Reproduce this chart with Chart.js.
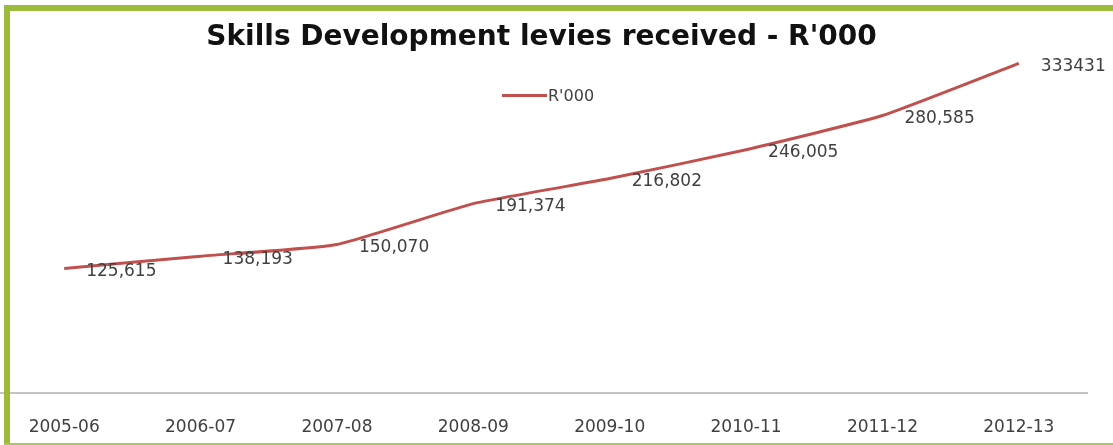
<!DOCTYPE html>
<html>
<head>
<meta charset="utf-8">
<script src="https://cdn.jsdelivr.net/npm/chart.js@4/dist/chart.umd.min.js"></script>
<style>
  html, body { margin: 0; padding: 0; background: #fff; width: 1113px; height: 445px; overflow: hidden; position: relative; }
  #wrap { position: absolute; left: -4px; top: 0; width: 1117px; height: 471px; }
  .bd { position: absolute; background: #9BBB3B; }
  #legend { position: absolute; left: 502px; top: 85px; height: 20px; display: flex; align-items: center;
            font-family: "DejaVu Sans"; font-size: 16px; color: #404040; white-space: nowrap; }
  #legend .sw { width: 45px; height: 3px; margin-right: 1px; }
</style>
</head>
<body>
<div id="wrap"><canvas id="c"></canvas></div>
<div id="legend"></div>
<div class="bd" style="left:4px;top:5px;width:1109px;height:6px;"></div>
<div class="bd" style="left:4px;top:5px;width:6px;height:440px;"></div>
<div class="bd" style="left:4px;top:443px;width:1109px;height:2px;background:#A9C75A;"></div>
<script>
const categories = ['2005-06','2006-07','2007-08','2008-09','2009-10','2010-11','2011-12','2012-13'];
const levies = [125615, 138193, 150070, 191374, 216802, 246005, 280585, 333431];
const valueLabels = ['125,615','138,193','150,070','191,374','216,802','246,005','280,585','333431'];
const seriesName = "R'000";
const chartTitle = "Skills Development levies received - R'000";

const TEXT = '#404040';
const FONT = 'DejaVu Sans';

const dataLabelPlugin = {
  id: 'dataLabels',
  afterDatasetsDraw(chart) {
    const ctx = chart.ctx;
    const meta = chart.getDatasetMeta(0);
    ctx.save();
    ctx.font = '17px "' + FONT + '"';
    ctx.fillStyle = TEXT;
    ctx.textAlign = 'left';
    ctx.textBaseline = 'middle';
    meta.data.forEach((pt, i) => {
      ctx.fillText(valueLabels[i], pt.x + 22, pt.y + 3);
    });
    ctx.restore();
  }
};

const chart = new Chart(document.getElementById('c'), {
  type: 'line',
  data: {
    labels: categories,
    datasets: [{
      label: seriesName,
      data: levies,
      borderColor: '#C0504D',
      backgroundColor: '#C0504D',
      borderWidth: 3,
      pointRadius: 0,
      tension: 0.15,
      fill: false
    }]
  },
  options: {
    responsive: true,
    maintainAspectRatio: false,
    animation: false,
    layout: { padding: { left: 0, right: 26, top: 0, bottom: 8 } },
    plugins: {
      title: {
        display: true,
        text: chartTitle,
        color: '#111',
        font: { family: FONT, size: 28, weight: 'bold', lineHeight: '18px' },
        padding: { top: 29, bottom: 0 }
      },
      legend: { display: false },
      tooltip: { enabled: false }
    },
    scales: {
      x: {
        offset: true,
        grid: { display: false, drawTicks: false },
        border: { display: true, color: '#C4C4C4', width: 2 },
        ticks: { color: TEXT, font: { family: FONT, size: 17 }, padding: 25, maxRotation: 0, autoSkip: false }
      },
      y: {
        display: false,
        min: 0,
        max: 350000
      }
    }
  },
  plugins: [dataLabelPlugin]
});

// HTML legend built from the chart's dataset
const lg = document.getElementById('legend');
chart.data.datasets.forEach(ds => {
  const sw = document.createElement('span');
  sw.className = 'sw';
  sw.style.background = ds.borderColor;
  const tx = document.createElement('span');
  tx.textContent = ds.label;
  lg.appendChild(sw);
  lg.appendChild(tx);
});
</script>
</body>
</html>
